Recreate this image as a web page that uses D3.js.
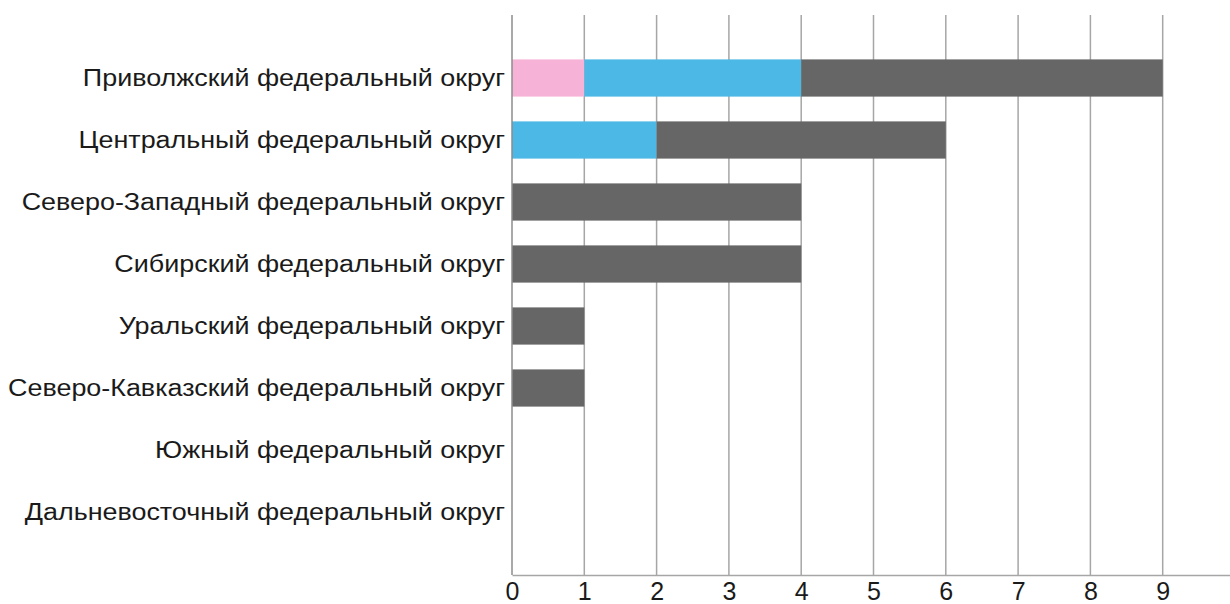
<!DOCTYPE html>
<html lang="ru">
<head>
  <meta charset="UTF-8">
  <title>Федеральные округа</title>
  <script src="https://d3js.org/d3.v7.min.js"></script>
  <style>
    body { margin: 0; background: #fff; }
    text { font-family: "Liberation Sans", Arial, sans-serif; fill: #1a1a1a; }
  </style>
</head>
<body>
  <svg id="chart" width="1230" height="604"></svg>

  <script>
    // Categories (top to bottom)
    const districts = [
      "Приволжский федеральный округ",
      "Центральный федеральный округ",
      "Северо-Западный федеральный округ",
      "Сибирский федеральный округ",
      "Уральский федеральный округ",
      "Северо-Кавказский федеральный округ",
      "Южный федеральный округ",
      "Дальневосточный федеральный округ"
    ];

    // Stacked series values, same order as districts
    const pinkValues = [1, 0, 0, 0, 0, 0, 0, 0];
    const blueValues = [3, 2, 0, 0, 0, 0, 0, 0];
    const grayValues = [5, 4, 4, 4, 1, 1, 0, 0];

    const tickValues = [0, 1, 2, 3, 4, 5, 6, 7, 8, 9];

    const seriesKeys = ["pink", "blue", "gray"];
    const colors = { pink: "#f7b3d7", blue: "#4bb8e5", gray: "#666666" };

    const rows = districts.map((d, i) => ({
      district: d, pink: pinkValues[i], blue: blueValues[i], gray: grayValues[i]
    }));

    const svg = d3.select("#chart");
    const x0 = 512, plotTop = 15, plotBottom = 575;

    const x = d3.scaleLinear().domain([0, 10]).range([x0, x0 + 723]);
    const y = d3.scaleBand().domain(districts).range([47, 543]).paddingInner(0.4).paddingOuter(0.2);

    // vertical gridlines
    svg.append("g")
      .selectAll("line")
      .data(tickValues.slice(1))
      .join("line")
      .attr("x1", d => x(d)).attr("x2", d => x(d))
      .attr("y1", plotTop).attr("y2", plotBottom)
      .attr("stroke", "#a6a6a6")
      .attr("stroke-width", 1.5);

    // stacked bars
    const stack = d3.stack().keys(seriesKeys)(rows);
    svg.append("g")
      .selectAll("g")
      .data(stack)
      .join("g")
      .attr("fill", s => colors[s.key])
      .selectAll("rect")
      .data(s => s.filter(d => d[1] > d[0]))
      .join("rect")
      .attr("x", d => x(d[0]))
      .attr("width", d => x(d[1]) - x(d[0]))
      .attr("y", d => y(d.data.district))
      .attr("height", y.bandwidth());

    // left axis line
    svg.append("line")
      .attr("x1", x0).attr("x2", x0)
      .attr("y1", plotTop).attr("y2", plotBottom)
      .attr("stroke", "#8c8c8c").attr("stroke-width", 1.5);

    // bottom axis
    const xAxis = svg.append("g")
      .attr("transform", `translate(0,${plotBottom})`)
      .call(d3.axisBottom(x).tickValues(tickValues).tickSize(0).tickPadding(7).tickFormat(d3.format("d")));
    xAxis.select(".domain").attr("stroke", "#a6a6a6").attr("stroke-width", 1.5);
    xAxis.selectAll("text").attr("font-size", 25).attr("fill", "#1a1a1a")
      .style("font-family", "'Liberation Sans', Arial, sans-serif");

    // category labels (font in the source is a bit wider, so stretch horizontally)
    svg.append("g")
      .selectAll("text")
      .data(districts)
      .join("text")
      .attr("transform", d => `translate(${x0 - 7},${y(d) + y.bandwidth() / 2}) scale(1.17,1)`)
      .attr("dy", "0.36em")
      .attr("text-anchor", "end")
      .attr("font-size", 23)
      .text(d => d);
  </script>
</body>
</html>
